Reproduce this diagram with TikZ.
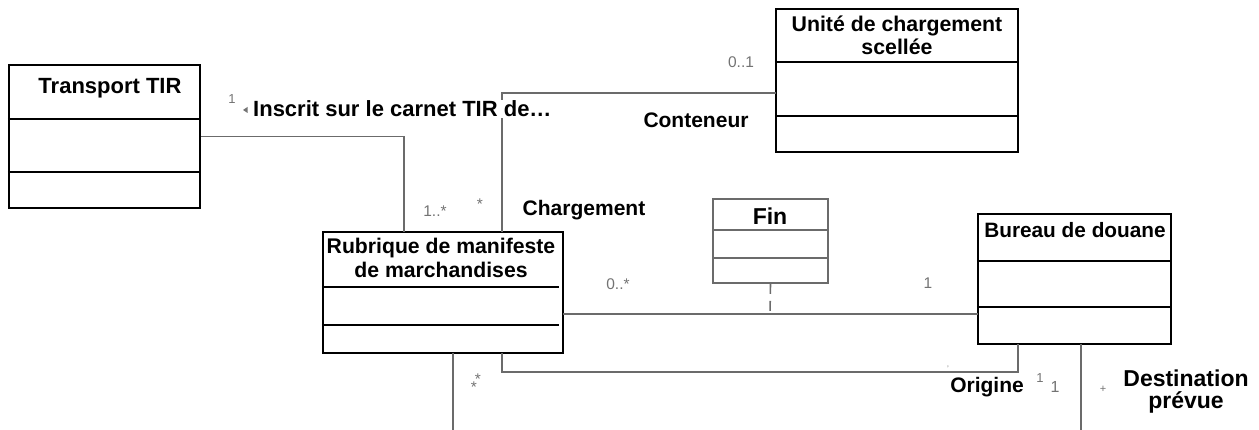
\documentclass[tikz,border=0pt]{standalone}
\usepackage{fontspec}
\setmainfont{Liberation Sans}
\definecolor{linegray}{gray}{0.42}
\definecolor{multgray}{gray}{0.45}
\begin{document}
\begin{tikzpicture}[x=1pt,y=-1pt,
  classbox/.style={draw=black,line width=2.2pt,rectangle,inner sep=0pt},
  thinbox/.style={draw=linegray,line width=1.6pt,rectangle,inner sep=0pt},
  divider/.style={draw=black,line width=2pt},
  thindivider/.style={draw=linegray,line width=1.6pt},
  assoc/.style={draw=linegray,line width=1.6pt},
  title/.style={font=\bfseries\fontsize{22}{24}\selectfont,align=center,anchor=base,inner sep=0pt},
  rolelabel/.style={font=\bfseries\fontsize{21.5}{24}\selectfont,align=center,anchor=base,inner sep=0pt},
  mult/.style={text=multgray,font=\fontsize{15.5}{17}\selectfont,inner sep=0pt}
]
\useasboundingbox (0,0) rectangle (1259,430);

% class boxes
\node[classbox,minimum width=191pt,minimum height=143pt] (tir) at (104.5,136.5) {};
\node[classbox,minimum width=242pt,minimum height=143pt] (unite) at (897,80.5) {};
\node[classbox,minimum width=240pt,minimum height=121pt] (rub) at (443,292.5) {};
\node[thinbox,minimum width=115pt,minimum height=84pt] (fin) at (770.5,241) {};
\node[classbox,minimum width=193pt,minimum height=130pt] (bur) at (1074.5,279) {};

% dividers
\draw[divider] (tir.west |- 0,119) -- (tir.east |- 0,119);
\draw[divider] (tir.west |- 0,172) -- (tir.east |- 0,172);
\draw[divider] (unite.west |- 0,62) -- (unite.east |- 0,62);
\draw[divider] (unite.west |- 0,116) -- (unite.east |- 0,116);
\draw[divider] (rub.west |- 0,287) -- (559,287);
\draw[divider] (rub.west |- 0,325) -- (559,325);
\draw[thindivider] (fin.west |- 0,230) -- (fin.east |- 0,230);
\draw[thindivider] (fin.west |- 0,258) -- (fin.east |- 0,258);
\draw[divider] (bur.west |- 0,261) -- (bur.east |- 0,261);
\draw[divider] (bur.west |- 0,307) -- (bur.east |- 0,307);

% titles (base anchor = baseline of the last line)
\node[title] (tTir) at (110,94) {Transport TIR};
\node[title,font=\bfseries\fontsize{21.3}{23}\selectfont] (tUnite) at (897,55) {Unité de chargement\\scellée};
\node[title,font=\bfseries\fontsize{21.2}{24}\selectfont] (tRub) at (441,278) {Rubrique de manifeste\\de marchandises};
\node[title,font=\bfseries\fontsize{23}{24}\selectfont] (tFin) at (770,225) {Fin};
\node[title,font=\bfseries\fontsize{20.8}{24}\selectfont] (tBur) at (1075,238) {Bureau de douane};

% connection points
\coordinate (r1) at (404,232);
\coordinate (r2) at (502,232);
\coordinate (u1) at (776,93);
\coordinate (r3) at (563,314);
\coordinate (b1) at (978,314);
\coordinate (r4) at (502,353);
\coordinate (b2) at (1018,344);
\coordinate (r5) at (453,353);
\coordinate (e1) at (453,430);
\coordinate (b3) at (1081,344);
\coordinate (e2) at (1081,430);
\coordinate (f1) at (770,314);

% associations
\draw[assoc] (tir.east) -| (r1);
\draw[assoc] (r2) |- (u1);
\draw[assoc] (r3) -- (b1);
\draw[assoc] (r4) |- (1018,372) -- (b2);
\draw[assoc] (r5) -- (e1);
\draw[assoc] (b3) -- (e2);
\draw[assoc,dash pattern=on 10pt off 7pt] (fin.south) -- (f1);

% association labels
\node[rolelabel,fill=white,inner sep=1pt,anchor=base west,font=\bfseries\fontsize{22}{24}\selectfont] (lInscrit) at (252,117) {Inscrit sur le carnet TIR de…};
\fill[multgray] (243,110) -- (247.5,107) -- (247.5,113) -- cycle;
\node[mult,font=\fontsize{13}{14}\selectfont] (m1a) at (232,99) {1};
\node[rolelabel,font=\bfseries\fontsize{21}{24}\selectfont] (lCont) at (696,128) {Conteneur};
\node[rolelabel,font=\bfseries\fontsize{21}{24}\selectfont] (lCharg) at (584,216) {Chargement};
\node[rolelabel,font=\bfseries\fontsize{21}{24}\selectfont] (lOrig) at (987,392) {Origine};
\node[rolelabel,font=\bfseries\fontsize{23}{21}\selectfont] (lDest) at (1186,408) {Destination\\prévue};

% multiplicities
\node[mult] (m01) at (741,62) {0..1};
\node[mult] (m1s) at (435,211) {1..*};
\node[mult] (ms1) at (480,204) {*};
\node[mult] (m0s) at (618,284) {0..*};
\node[mult] (m1b) at (928,283) {1};
\node[mult] (ms2) at (478,379) {*};
\node[mult] (ms3) at (474,387) {*};
\node[mult,font=\fontsize{8}{9}\selectfont] (mtick) at (948,369) {'};
\node[mult,font=\fontsize{13}{14}\selectfont] (m1c) at (1040,378) {1};
\node[mult,font=\fontsize{16}{17}\selectfont] (m1d) at (1055,387) {1};
\node[mult,font=\fontsize{11}{12}\selectfont] (mplus) at (1103,389) {+};
\end{tikzpicture}
\end{document}
